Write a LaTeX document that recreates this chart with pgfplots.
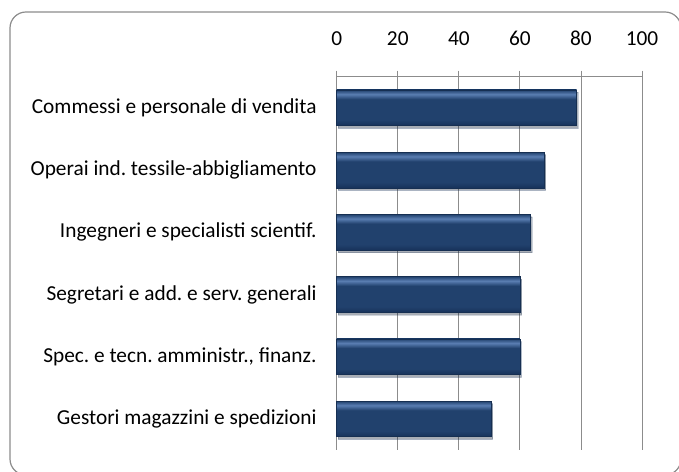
\documentclass[border=0pt]{standalone}
\usepackage{pgfplots}
\pgfplotsset{compat=1.18}
\usepackage{fontspec}
\setmainfont{Carlito}
\usetikzlibrary{shadows}
\definecolor{gridgray}{HTML}{8C8C8C}
\definecolor{bartop}{HTML}{5A7EB2}
\definecolor{barmid}{HTML}{21416D}
\definecolor{barbot}{HTML}{17325A}
\definecolor{baredge}{HTML}{162F52}
\pgfdeclareverticalshading{barshade}{100bp}{color(0bp)=(barbot); color(25bp)=(barbot); color(33bp)=(barmid); color(62bp)=(barmid); color(69bp)=(bartop); color(75bp)=(barmid); color(100bp)=(barmid)}
\pgfplotsset{barsty/.style={xbar, bar width=35.7bp, bar shift=0pt, draw=baredge, line width=0.6bp,
  shading=barshade,
  drop shadow={shadow xshift=1.5bp, shadow yshift=-2.5bp, opacity=0.2, fill=black}}}
\begin{document}
\frenchspacing
\begin{tikzpicture}[x=1bp,y=1bp]
\path[use as bounding box] (0,0) rectangle (679,472);
\draw[rounded corners=16bp, draw=gridgray, line width=1.2bp] (10,-3) rectangle (681,460);
\begin{axis}[
  at={(336.7bp,22bp)}, anchor=south west,
  scale only axis, width=305.3bp, height=373.3bp,
  xmin=0, xmax=100, ymin=-0.5, ymax=5.5,
  y dir=reverse,
  axis x line=top, axis y line=left,
  axis line style={-, draw=gridgray, line width=0.9bp},
  xtick={0,20,...,100},
  xmajorgrids, grid style={draw=gridgray, line width=0.9bp},
  xtick align=center,
  major tick length=12bp,
  x tick style={draw=gridgray, line width=0.9bp},
  /pgf/number format/assume math mode=true,
  xticklabel style={font=\fontsize{21.4}{24}\selectfont, inner sep=0pt, anchor=south, yshift=25bp},
  ytick={0,1,2,3,4,5},
  yticklabels={Commessi e personale di vendita, Operai ind. tessile-abbigliamento, Ingegneri e specialisti scientif., Segretari e add. e serv. generali, {Spec. e tecn. amministr., finanz.}, Gestori magazzini e spedizioni},
  y tick style={draw=none},
  yticklabel style={font=\fontsize{21.4}{24}\selectfont, inner sep=0pt, anchor=east, xshift=-14bp},
  extra y ticks={-0.5,0.5,1.5,2.5,3.5,4.5,5.5},
  extra y tick labels={},
  extra y tick style={grid=none, tick align=outside, major tick length=7bp, tick style={draw=gridgray, line width=0.9bp}},
  clip=false,
]
\addplot[barsty] coordinates {(78.6,0)};
\addplot[barsty] coordinates {(67.9,1)};
\addplot[barsty] coordinates {(63.5,2)};
\addplot[barsty] coordinates {(60.1,3)};
\addplot[barsty] coordinates {(60.0,4)};
\addplot[barsty] coordinates {(50.6,5)};
\end{axis}
\end{tikzpicture}
\end{document}
